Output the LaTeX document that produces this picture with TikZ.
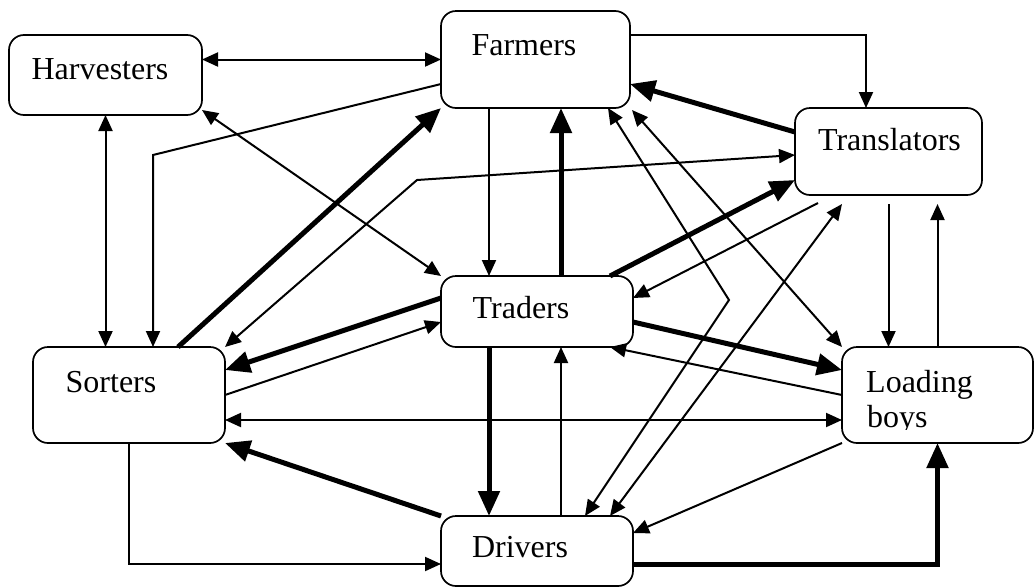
\documentclass[tikz,border=0pt]{standalone}
\usepackage{fontspec}
\setmainfont{Liberation Serif}
\usetikzlibrary{arrows.meta,calc}
\tikzset{
  box/.style={draw, line width=1.7pt, rounded corners=15pt, inner sep=0pt, outer sep=0pt, anchor=north west},
  lbl/.style={font=\fontsize{32}{36}\selectfont, inner sep=0pt, anchor=base},
  con/.style={line width=2pt, -{Triangle[length=16pt,width=14pt]}},
  conboth/.style={line width=2pt, {Triangle[length=16pt,width=14pt]}-{Triangle[length=16pt,width=14pt]}},
  heavy/.style={line width=5pt, -{Triangle[length=25pt,width=21pt]}},
}
\begin{document}
\begin{tikzpicture}[x=1pt,y=-1pt]
\useasboundingbox (0,0) rectangle (1034,587);
% boxes
\node[box, minimum width=193pt, minimum height=80pt] (harv) at (9,35) {};
\node[box, minimum width=189pt, minimum height=97pt] (farm) at (441,11) {};
\node[box, minimum width=187pt, minimum height=87pt] (trans) at (795,108) {};
\node[box, minimum width=192pt, minimum height=71pt] (trad) at (441,276) {};
\node[box, minimum width=192pt, minimum height=96pt] (sort) at (33,347) {};
\node[box, minimum width=191pt, minimum height=96pt] (load) at (842,347) {};
\node[box, minimum width=192pt, minimum height=70pt] (driv) at (441,516) {};
% labels
\node[lbl] (harvT) at (100,79) {Harvesters};
\node[lbl] (farmT) at (524,55) {Farmers};
\node[lbl] (transT) at (889.5,150) {Translators};
\node[lbl] (tradT) at (521,318) {Traders};
\node[lbl] (sortT) at (111,392) {Sorters};
\begin{scope}
  \clip (842,347) rectangle (1034,429);
  \node[lbl, anchor=base west] (loadT1) at (866,392) {Loading};
  \node[lbl, anchor=base west] (loadT2) at (867,427) {boys};
\end{scope}
\node[lbl] (drivT) at (520,557) {Drivers};
% connectors
\draw[conboth] (harv.east |- farm.west) -- (farm.west);
\draw[conboth] (harv.south) -- (harv.south |- sort.north);
\draw[con] ($(farm.south west)+(0,-24)$) -- ++(-288,71) -- ($(sort.north west)+(120,0)$);
\draw[conboth] ($(harv.south east)+(0,-5)$) -- (trad.north west);
\draw[heavy] ($(sort.north west)+(145,0)$) -- (farm.south west);
\draw[conboth] (sort.north east) -- ++(192,-167) -- ($(trans.west)+(0,3.5)$);
\draw[heavy] ($(trad.west)+(0,-13.5)$) -- ($(sort.north east)+(0,23)$);
\draw[con] (sort.east) -- ($(trad.west)+(0,10.5)$);
\draw[conboth] ($(sort.east)+(0,25)$) -- ($(load.west)+(0,25)$);
\draw[heavy] (driv.north west) -- (sort.south east);
\draw[con] (sort.south) |- ($(driv.west)+(0,13)$);
\draw[con] ($(farm.south west)+(48,0)$) -- ($(trad.north west)+(48,0)$);
\draw[heavy] ($(trad.north west)+(120,0)$) -- ($(farm.south west)+(120,0)$);
\draw[con] ($(farm.north east)+(0,24)$) -| ($(trans.north west)+(71,0)$);
\draw[heavy] ($(trans.north west)+(0,24)$) -- ($(farm.south east)+(0,-24)$);
\draw[heavy] ($(trad.north east)+(-23,0)$) -- ($(trans.south west)+(0,-15)$);
\draw[con] ($(trans.south west)+(23,8)$) -- ($(trad.east)+(0,-13.5)$);
\draw[con] ($(trans.south)+(0,9)$) -- (trans.south |- load.north);
\draw[con] (load.north) -- ($(load.north |- trans.south)+(0,9)$);
\draw[heavy] ($(trad.east)+(0,10.5)$) -- ($(load.west)+(0,-25)$);
\draw[con] (load.west) -- ($(trad.south east)+(-23,0)$);
\draw[conboth] ($(farm.south east)+(-22,0)$) -- (729,300) -- ($(driv.north east)+(-48,0)$);
\draw[conboth] ($(farm.south east)+(2,2)$) -- (load.north west);
\draw[conboth] ($(trans.south west)+(47,9)$) -- ($(driv.north east)+(-23,0)$);
\draw[con] (load.south west) -- ($(driv.east)+(0,-18)$);
\draw[heavy] ($(driv.east)+(0,13)$) -| (load.south);
\draw[heavy] ($(trad.south west)+(48,0)$) -- ($(driv.north west)+(48,0)$);
\draw[con] ($(driv.north west)+(120,0)$) -- ($(trad.south west)+(120,0)$);
\end{tikzpicture}
\end{document}
